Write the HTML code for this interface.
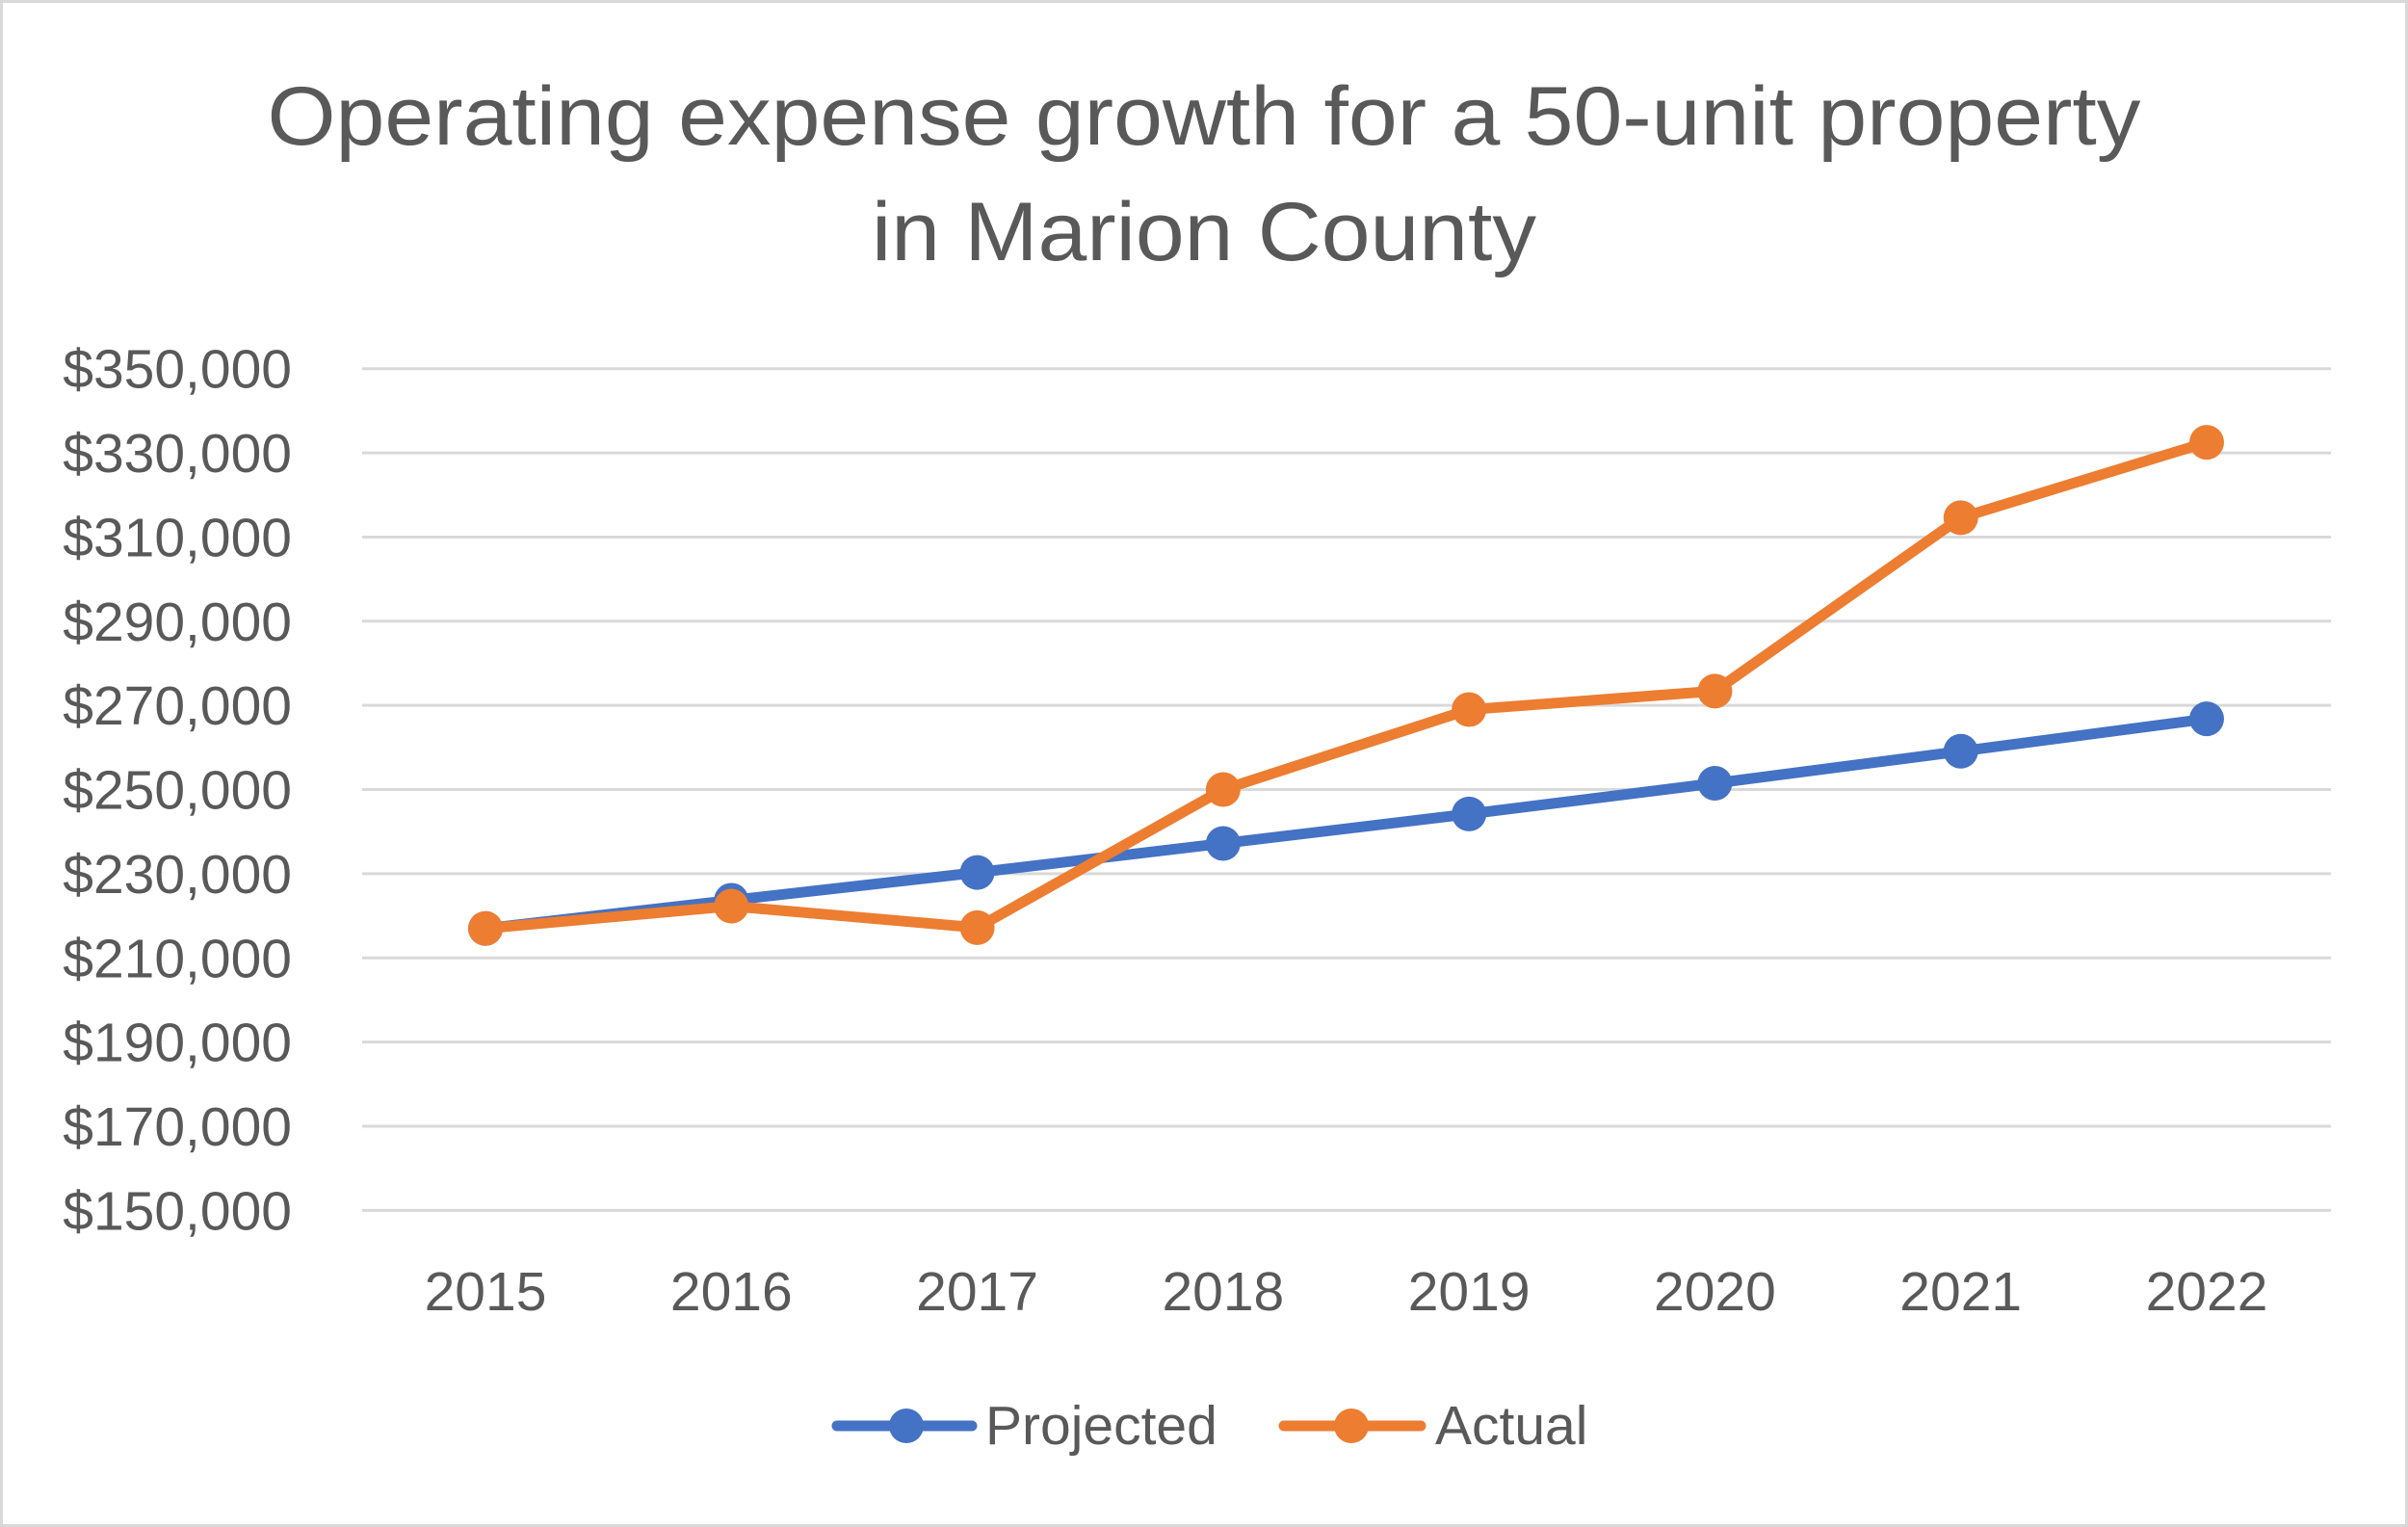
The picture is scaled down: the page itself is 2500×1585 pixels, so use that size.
<!DOCTYPE html>
<html><head><meta charset="utf-8"><style>
html,body{margin:0;padding:0;background:#fff;}
svg{display:block;font-family:"Liberation Sans",Calibri,sans-serif;}
</style></head><body>
<svg id="chart" width="2500" height="1585" viewBox="0 0 2500 1585">
<rect x="1.5" y="1.5" width="2497" height="1582" fill="#fff" stroke="#d9d9d9" stroke-width="3"/>
<text x="1250" y="150" text-anchor="middle" font-size="86" fill="#595959" textLength="1945" lengthAdjust="spacingAndGlyphs">Operating expense growth for a 50-unit property</text>
<text x="1250" y="270" text-anchor="middle" font-size="86" fill="#595959" textLength="690" lengthAdjust="spacingAndGlyphs">in Marion County</text>
<g id="grid"></g><g id="yticks"></g><g id="xticks"></g><g id="series"></g>
<g>
<g>
<line x1="869" y1="1480" x2="1009" y2="1480" stroke="#4472c4" stroke-width="11" stroke-linecap="round"/>
<circle cx="941" cy="1480" r="18" fill="#4472c4"/>
<text x="1023" y="1499" font-size="57" fill="#595959">Projected</text>
</g>
<g>
<line x1="1333" y1="1480" x2="1475" y2="1480" stroke="#ed7d31" stroke-width="11" stroke-linecap="round"/>
<circle cx="1403" cy="1480" r="18" fill="#ed7d31"/>
<text x="1490" y="1499" font-size="57" fill="#595959">Actual</text>
</g>
</g>
</svg>
<script>
const categories=["2015","2016","2017","2018","2019","2020","2021","2022"];
const projected=[217000,223700,230300,237200,244200,251500,259100,266800];
const actual=[217000,222300,217200,250000,269000,273400,314600,332500];
const yTicks=[150000,170000,190000,210000,230000,250000,270000,290000,310000,330000,350000];
const NS="http://www.w3.org/2000/svg";
const yMin=150000,yMax=350000,pTop=382.7,pBot=1256.4,pL=376,pR=2420;
const x0=504,x1=2291;
function xs(i){return x0+i*(x1-x0)/(categories.length-1);}
function ys(v){return pBot-(v-yMin)/(yMax-yMin)*(pBot-pTop);}
function mk(tag,attrs,parent){const e=document.createElementNS(NS,tag);for(const k in attrs)e.setAttribute(k,attrs[k]);parent.appendChild(e);return e;}
const grid=document.getElementById('grid'),yt=document.getElementById('yticks'),xt=document.getElementById('xticks'),sg=document.getElementById('series');
yTicks.forEach(v=>{
 const l=mk('line',{x1:pL,x2:pR,y1:ys(v),y2:ys(v),stroke:'#d9d9d9','stroke-width':3},grid);
 
 
 const t=mk('text',{x:303,y:ys(v)+20,'text-anchor':'end','font-size':57,fill:'#595959'},yt);
 t.textContent='$'+v.toLocaleString('en-US');
 
 
});
categories.forEach((c,i)=>{
 const t=mk('text',{x:xs(i),y:1360,'text-anchor':'middle','font-size':57,fill:'#595959'},xt);
 t.textContent=c;
 
 
});
function drawSeries(vals,color,name){
 const g=mk('g',{},sg);
 
 
 const p=mk('polyline',{points:vals.map((v,i)=>xs(i)+','+ys(v)).join(' '),fill:'none',stroke:color,'stroke-width':11,'stroke-linejoin':'round','stroke-linecap':'round'},g);
 
 
 vals.forEach((v,i)=>{
  const c=mk('circle',{cx:xs(i),cy:ys(v),r:18,fill:color},g);
  
  
 });
}
drawSeries(projected,'#4472c4','projected');
drawSeries(actual,'#ed7d31','actual');
</script>
</body></html>
